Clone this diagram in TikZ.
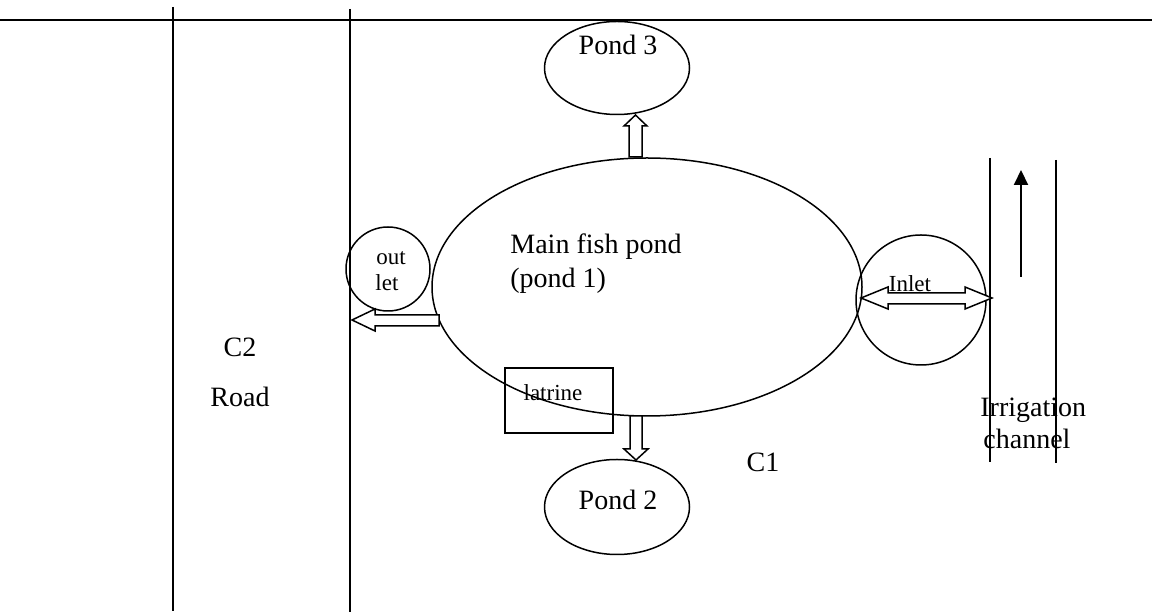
\documentclass[tikz,border=0pt]{standalone}
\usepackage{fontspec}
\setmainfont{Liberation Serif}
\usetikzlibrary{shapes.geometric,arrows.meta}
\begin{document}
\begin{tikzpicture}[x=0.5pt,y=-0.5pt,
  lbl/.style={font=\fontsize{14}{16}\selectfont, inner sep=0},
  small/.style={font=\fontsize{11.5}{13}\selectfont, inner sep=0},
  pond/.style={draw, ellipse, inner sep=0, line width=0.75pt},
  ln/.style={line width=0.8pt},
  blk/.style={draw, fill=white, line width=0.75pt, line join=miter}]
\useasboundingbox (0,0) rectangle (1152,613);
% road and top boundary
\draw[line width=1.3pt] (0,20) -- (1152,20);
\coordinate (r1t) at (173,7);   \coordinate (r1b) at (173,611);
\coordinate (r2t) at (350,9);   \coordinate (r2b) at (350,612);
\draw[line width=0.9pt] (r1t) -- (r1b);
\draw[line width=0.9pt] (r2t) -- (r2b);
% irrigation channel
\coordinate (c1t) at (990,158); \coordinate (c1b) at (990,462);
\coordinate (c2t) at (1056,160); \coordinate (c2b) at (1056,463);
\draw[ln] (c1t) -- (c1b);
\draw[ln] (c2t) -- (c2b);
\coordinate (fa) at (1021,277); \coordinate (fb) at (1021,170);
\draw[line width=1pt,-{Triangle[width=7pt,length=7.5pt]}] (fa) -- (fb);
% ponds
\node[pond, minimum width=72.5pt, minimum height=46.5pt] (p3) at (617,68) {};
\node[pond, minimum width=72.5pt, minimum height=47.5pt] (p2) at (617,507) {};
\node[pond, minimum width=215pt, minimum height=129pt] (p1) at (647,287) {};
\node[pond, circle, minimum size=42pt] (out) at (388,269) {};
\node[pond, circle, minimum size=65pt] (in) at (921,300) {};
\node[draw, line width=0.75pt, minimum width=54pt, minimum height=32.5pt, inner sep=0] (lat) at (559,400.5) {};
% block arrows
\draw[blk] (629,157) -- (629,126) -- (624,126) -- (635.5,115) -- (647,126) -- (642,126) -- (642,157) -- cycle;
\draw[blk] (630,416) -- (630,449) -- (624,449) -- (636,460) -- (648,449) -- (642,449) -- (642,416) -- cycle;
\draw[blk] (439,315) -- (375,315) -- (375,309) -- (352,320) -- (375,331) -- (375,326) -- (439,326) -- cycle;
\draw[blk] (861,298) -- (888,287) -- (888,293) -- (965,293) -- (965,287) -- (992,298) -- (965,309) -- (965,304) -- (888,304) -- (888,309) -- cycle;
% labels
\node[lbl] (t3) at (618,45) {Pond 3};
\node[lbl] (t2) at (618,500) {Pond 2};
\node[lbl, anchor=west] (tm1) at (510,247) {Main fish pond};
\node[lbl, anchor=west] (tm2) at (510,281) {(pond 1)};
\node[small] (to1) at (391,258) {out};
\node[small, anchor=west] (to2) at (375,283) {let};
\node[small] (ti) at (910,284) {Inlet};
\node[small] (tl) at (553,393) {latrine};
\node[lbl] (tc2) at (240,347) {C2};
\node[lbl] (tr) at (240,397) {Road};
\node[lbl] (tc1) at (763,462) {C1};
\node[lbl, anchor=west] (ti1) at (980,410) {Irrigation};
\node[lbl, anchor=west] (ti2) at (983,439) {channel};
\end{tikzpicture}
\end{document}
